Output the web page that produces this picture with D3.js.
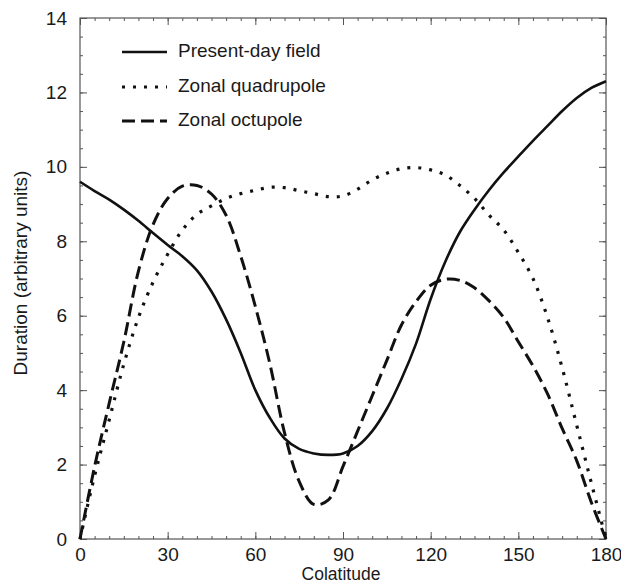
<!DOCTYPE html>
<html><head><meta charset="utf-8">
<script src="https://cdn.jsdelivr.net/npm/d3@7/dist/d3.min.js"></script>
<style>
html,body{margin:0;padding:0;background:#fff;}
svg{display:block;font-family:"Liberation Sans",Arial,Helvetica,sans-serif;}
</style></head>
<body>
<svg id="chart" width="621" height="584"></svg>
<script>
const colatitude = [0,5,10,15,20,25,30,35,40,45,50,55,60,65,70,75,80,85,90,95,100,105,110,115,120,125,130,135,140,145,150,155,160,165,170,175,180];
const presentDay = [9.6,9.35,9.12,8.85,8.55,8.22,7.9,7.6,7.22,6.65,5.9,5.0,4.0,3.25,2.7,2.42,2.3,2.26,2.3,2.5,2.9,3.5,4.3,5.25,6.45,7.45,8.25,8.85,9.38,9.85,10.28,10.7,11.1,11.5,11.85,12.12,12.3];
const quadrupole = [0,1.7,3.2,4.7,5.95,6.9,7.65,8.3,8.72,8.95,9.15,9.28,9.37,9.45,9.44,9.36,9.28,9.2,9.22,9.4,9.65,9.83,9.95,9.98,9.92,9.78,9.5,9.15,8.7,8.3,7.7,7.0,5.95,4.6,3.05,1.5,0];
const octupole = [0,1.95,3.65,5.3,7.2,8.45,9.15,9.48,9.5,9.27,8.7,7.6,6.25,4.7,2.85,1.55,0.93,1.05,1.95,2.9,3.85,4.8,5.75,6.38,6.82,6.98,6.95,6.75,6.4,5.95,5.3,4.65,3.9,2.97,2.1,0.98,0];
const seriesNames = ["Present-day field","Zonal quadrupole","Zonal octupole"];
const xTicks = [0,30,60,90,120,150,180];
const yTicks = [0,2,4,6,8,10,12,14];
const xLabel = "Colatitude";
const yLabel = "Duration (arbitrary units)";

const L=80,R=606,T=18,B=539;
const svg=d3.select("#chart");
const x=d3.scaleLinear().domain([0,180]).range([L,R]);
const y=d3.scaleLinear().domain([0,14]).range([B,T]);

const axisColor="#555";
const xMinor=d3.range(0,181,5), yMinor=d3.range(0,14.01,0.5);

function styleAxis(g){
  g.select(".domain").remove();
  g.selectAll("line").attr("stroke",axisColor).attr("stroke-width",1);
  g.selectAll("text").attr("fill","#1a1a1a").style("font-size","19px").style("font-family","'Liberation Sans',Arial,sans-serif");
}
// minor ticks
svg.append("g").attr("transform",`translate(0,${B})`).call(d3.axisBottom(x).tickValues(xMinor).tickSize(-3).tickFormat("")).call(styleAxis);
svg.append("g").attr("transform",`translate(0,${T})`).call(d3.axisTop(x).tickValues(xMinor).tickSize(-3).tickFormat("")).call(styleAxis);
svg.append("g").attr("transform",`translate(${L},0)`).call(d3.axisLeft(y).tickValues(yMinor).tickSize(-3).tickFormat("")).call(styleAxis);
svg.append("g").attr("transform",`translate(${R},0)`).call(d3.axisRight(y).tickValues(yMinor).tickSize(-3).tickFormat("")).call(styleAxis);
// major ticks
svg.append("g").attr("transform",`translate(0,${B})`).call(d3.axisBottom(x).tickValues(xTicks).tickSize(-7).tickPadding(9).tickFormat(d3.format("d"))).call(styleAxis);
svg.append("g").attr("transform",`translate(0,${T})`).call(d3.axisTop(x).tickValues(xTicks).tickSize(-7).tickFormat("")).call(styleAxis);
svg.append("g").attr("transform",`translate(${L},0)`).call(d3.axisLeft(y).tickValues(yTicks).tickSize(-7).tickPadding(13).tickFormat(d3.format("d"))).call(styleAxis);
svg.append("g").attr("transform",`translate(${R},0)`).call(d3.axisRight(y).tickValues(yTicks).tickSize(-7).tickFormat("")).call(styleAxis);

svg.append("rect").attr("x",L).attr("y",T).attr("width",R-L).attr("height",B-T)
  .attr("fill","none").attr("stroke",axisColor).attr("stroke-width",1.2);

const line=d3.line().x((d,i)=>x(colatitude[i])).y(d=>y(d)).curve(d3.curveCatmullRom.alpha(0.5));
const styles=[
  {data:presentDay,dash:null,w:2.6},
  {data:quadrupole,dash:"3,8",w:3.2},
  {data:octupole,dash:"13,6",w:3}
];
styles.forEach(s=>{
  svg.append("path").attr("d",line(s.data)).attr("fill","none").attr("stroke","#111")
    .attr("stroke-width",s.w).attr("stroke-dasharray",s.dash);
});

// legend
const legY=[52,87,121];
seriesNames.forEach((n,i)=>{
  svg.append("line").attr("x1",122).attr("x2",167).attr("y1",legY[i]).attr("y2",legY[i])
    .attr("stroke","#111").attr("stroke-width",styles[i].w).attr("stroke-dasharray",styles[i].dash);
  svg.append("text").attr("x",178).attr("y",legY[i]+5).attr("dominant-baseline","auto")
    .attr("fill","#1a1a1a").style("font-size","19px").text(n);
});

svg.append("text").attr("x",(L+R)/2 - 2).attr("y",580).attr("text-anchor","middle")
  .attr("fill","#1a1a1a").style("font-size","17.5px").text(xLabel);
svg.append("text").attr("transform",`translate(27,273) rotate(-90)`).attr("text-anchor","middle")
  .attr("fill","#1a1a1a").style("font-size","19px").text(yLabel);
</script>
</body></html>
